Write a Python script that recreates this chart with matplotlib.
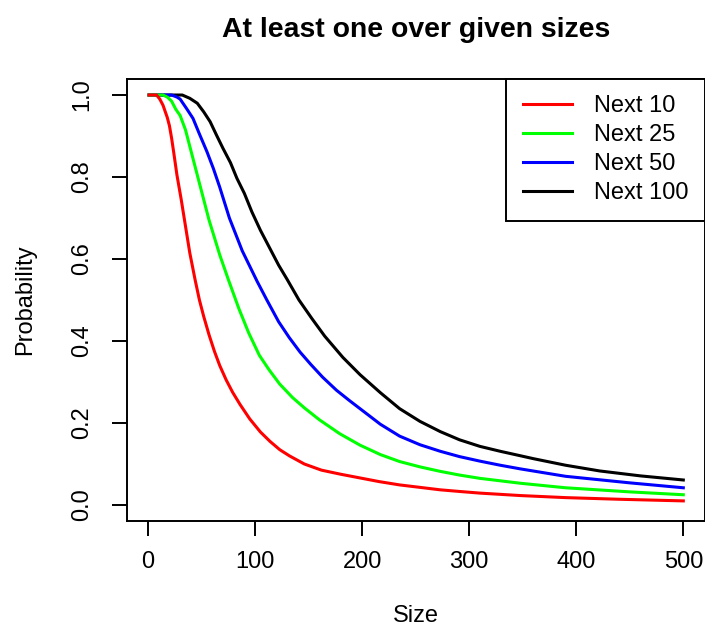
import matplotlib
matplotlib.use("Agg")
import matplotlib.pyplot as plt

plt.rcParams['font.family'] = ['Liberation Sans', 'DejaVu Sans']

# Curvas
size_10 = [1, 8, 11, 14, 16, 18, 20, 22, 24, 27, 31, 35, 39, 44, 48, 52, 57, 62, 67, 73, 79, 86, 95,
           105, 114, 123, 132, 146, 162, 180, 198, 216, 235, 254, 273, 291, 310, 348, 390, 440, 500]
prob_10 = [1.0, 1.0, 0.99, 0.975, 0.96, 0.945, 0.925, 0.895, 0.86, 0.805, 0.745, 0.68, 0.615, 0.549, 0.50,
           0.46, 0.415, 0.375, 0.34, 0.305, 0.275, 0.245, 0.21, 0.178, 0.155, 0.135, 0.12, 0.10, 0.085,
           0.075, 0.066, 0.057, 0.049, 0.043, 0.037, 0.033, 0.029, 0.023, 0.018, 0.014, 0.01]

size_25 = [1, 14, 18, 22, 26, 30, 35, 39, 44, 49, 57, 67, 75, 85, 94, 104, 113, 123, 135, 146, 160,
           179, 198, 217, 235, 254, 273, 291, 310, 348, 390, 450, 500]
prob_25 = [1.0, 1.0, 0.995, 0.985, 0.965, 0.95, 0.915, 0.875, 0.825, 0.775, 0.695, 0.61, 0.55, 0.478,
           0.42, 0.365, 0.33, 0.295, 0.262, 0.237, 0.208, 0.174, 0.146, 0.123, 0.106, 0.093, 0.082,
           0.073, 0.065, 0.053, 0.042, 0.032, 0.025]

size_50 = [1, 22, 27, 30, 36, 42, 48, 55, 61, 67, 76, 88, 102, 111, 122, 132, 142, 152, 163, 176, 188,
           198, 217, 235, 254, 273, 291, 310, 329, 348, 390, 450, 500]
prob_50 = [1.0, 1.0, 0.995, 0.99, 0.967, 0.943, 0.905, 0.862, 0.821, 0.775, 0.70, 0.62, 0.545, 0.5,
           0.447, 0.408, 0.373, 0.343, 0.312, 0.28, 0.255, 0.235, 0.197, 0.168, 0.147, 0.131, 0.118,
           0.107, 0.097, 0.088, 0.07, 0.054, 0.042]

size_100 = [1, 32, 39, 46, 52, 58, 64, 70, 77, 83, 90, 97, 105, 114, 122, 130, 141, 153, 165, 182, 198,
            217, 235, 254, 273, 291, 310, 329, 348, 360, 390, 422, 460, 500]
prob_100 = [1.0, 1.0, 0.992, 0.98, 0.959, 0.935, 0.902, 0.87, 0.835, 0.797, 0.76, 0.715, 0.67, 0.625,
            0.585, 0.55, 0.5, 0.455, 0.412, 0.36, 0.318, 0.274, 0.235, 0.204, 0.179, 0.159, 0.143, 0.131,
            0.12, 0.113, 0.097, 0.083, 0.071, 0.061]

labels = ['Next 10', 'Next 25', 'Next 50', 'Next 100']
cores = ['#FF0000', '#00FF00', '#0000FF', '#000000']
x_ticks = [0, 100, 200, 300, 400, 500]
y_ticks = [0.0, 0.2, 0.4, 0.6, 0.8, 1.0]

fig = plt.figure(figsize=(7.05, 6.26), dpi=100)
ax = fig.add_axes([0.1796, 0.1671, 0.8200, 0.7073])

series = [(size_10, prob_10), (size_25, prob_25), (size_50, prob_50), (size_100, prob_100)]
# vermelho por cima, preto por baixo
for i, ((xs, ys), lab, cor) in enumerate(zip(series, labels, cores)):
    ax.plot(xs, ys, color=cor, linewidth=2.2, label=lab, zorder=5 - i)

ax.set_xlim(-20, 520)
ax.set_ylim(-0.04, 1.04)
ax.set_xticks(x_ticks)
ax.set_xticklabels([str(t) for t in x_ticks])
ax.set_yticks(y_ticks)
ax.set_yticklabels([f"{t:.1f}" for t in y_ticks])
plt.setp(ax.get_yticklabels(), rotation=90, va='center')

for sp in ax.spines.values():
    sp.set_linewidth(1.4)
    sp.set_color('black')
ax.tick_params(direction='out', length=10.5, width=1.4, labelsize=17, colors='black')
ax.tick_params(axis='x', pad=11)
ax.tick_params(axis='y', pad=13.5)

ax.set_title("At least one over given sizes", fontsize=20.4, fontweight='bold', pad=30)
ax.set_xlabel("Size", fontsize=17, labelpad=23)
ax.set_ylabel("Probability", fontsize=17, labelpad=25)

leg = ax.legend(loc='upper right', bbox_to_anchor=(1, 1), borderaxespad=0, fontsize=17,
                frameon=True, fancybox=False, edgecolor='black', framealpha=1,
                handlelength=2.07, handletextpad=0.93, borderpad=0.7, labelspacing=0.3)
leg.get_frame().set_linewidth(1.4)

fig.savefig("out.png", dpi=100)
plt.close()
